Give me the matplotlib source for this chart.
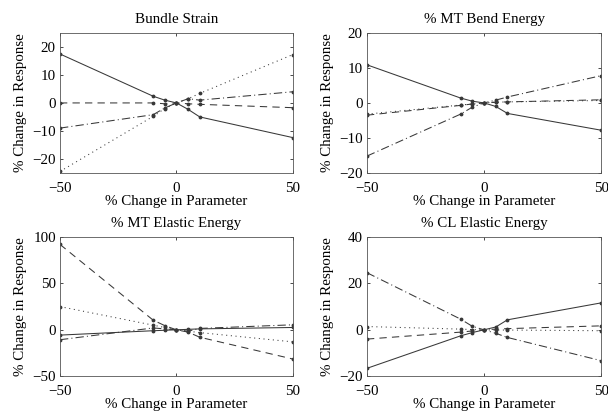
import matplotlib
matplotlib.use("Agg")
import matplotlib.pyplot as plt

plt.rcParams['font.family'] = ['Liberation Serif', 'DejaVu Serif']
plt.rcParams['font.size'] = 10.8

x = [-50, -10, -5, 0, 5, 10, 50]

titles = ["Bundle Strain", "% MT Bend Energy", "% MT Elastic Energy", "% CL Elastic Energy"]

# Bundle Strain
bs_solid = [17.5, 2.4, 1.0, 0, -2.3, -5.0, -12.4]
bs_dashed = [0.0, 0.0, -0.3, 0, -0.3, -0.5, -1.7]
bs_dotted = [-24.5, -4.8, -2.0, 0, 1.5, 3.4, 17.3]
bs_dashdot = [-9.0, -4.2, -1.8, 0, 1.5, 1.0, 4.0]

# MT Bend Energy
mb_solid = [10.9, 1.4, 0.5, 0, -1.0, -3.0, -7.8]
mb_dashed = [-3.5, -0.7, -0.3, 0, 0.2, 0.3, 0.9]
mb_dotted = [-3.2, -0.6, -0.3, 0, 0.2, 0.3, 0.7]
mb_dashdot = [-15.2, -3.2, -1.2, 0, 0.8, 1.7, 7.8]

# MT Elastic Energy
me_solid = [-5.7, -1.0, -0.5, 0, 0.5, 1.0, 2.5]
me_dashed = [92.0, 10.4, 4.5, 0, -2.5, -8.0, -31.5]
me_dotted = [25.0, 5.0, 2.5, 0, -1.5, -3.0, -13.0]
me_dashdot = [-10.7, 2.0, 1.0, 0, -1.5, 1.5, 5.4]

# CL Elastic Energy
ce_solid = [-16.6, -2.6, -1.2, 0, 1.2, 4.3, 11.6]
ce_dashed = [-4.0, -1.0, -0.5, 0, 0.3, 0.5, 1.7]
ce_dotted = [1.4, 0.3, 0.1, 0, -0.1, -0.1, -0.4]
ce_dashdot = [24.6, 4.6, 1.5, 0, -1.5, -3.3, -13.3]

series = [
    (bs_solid, bs_dashed, bs_dotted, bs_dashdot),
    (mb_solid, mb_dashed, mb_dotted, mb_dashdot),
    (me_solid, me_dashed, me_dotted, me_dashdot),
    (ce_solid, ce_dashed, ce_dotted, ce_dashdot),
]
ylims = [(-25, 25), (-20, 20), (-50, 100), (-20, 40)]
yticks = [[-20, -10, 0, 10, 20], [-20, -10, 0, 10, 20], [-50, 0, 50, 100], [-20, 0, 20, 40]]

styles = ['-', (0, (7, 5)), (0, (1, 3.5)), (0, (8, 3, 1, 3))]

fig = plt.figure(figsize=(6.08, 4.18), dpi=100)
positions = [
    [0.0987, 0.5865, 0.383, 0.3345],
    [0.6036, 0.5865, 0.385, 0.3345],
    [0.0987, 0.100, 0.383, 0.333],
    [0.6036, 0.100, 0.385, 0.333],
]
color = '#383838'
for i in range(4):
    ax = fig.add_axes(positions[i])
    for ys, ls in zip(series[i], styles):
        ax.plot(x, ys, linestyle=ls, color=color, linewidth=0.75,
                marker='.', markersize=3.5)
    ax.set_xlim(-50, 50)
    ax.set_ylim(*ylims[i])
    ax.set_xticks([-50, 0, 50])
    ax.set_yticks(yticks[i])
    ax.tick_params(direction='in', top=True, right=True, length=2.5, width=0.5)
    ax.tick_params(axis='x', pad=6.5)
    ax.tick_params(axis='y', pad=3)
    for s in ax.spines.values():
        s.set_linewidth(0.6)
        s.set_color('#555555')
    ax.set_title(titles[i], fontsize=10.8, pad=7)
    ax.set_xlabel("% Change in Parameter", labelpad=0)
    ax.set_ylabel("% Change in Response", labelpad=4)

fig.savefig("out.png", dpi=100)
